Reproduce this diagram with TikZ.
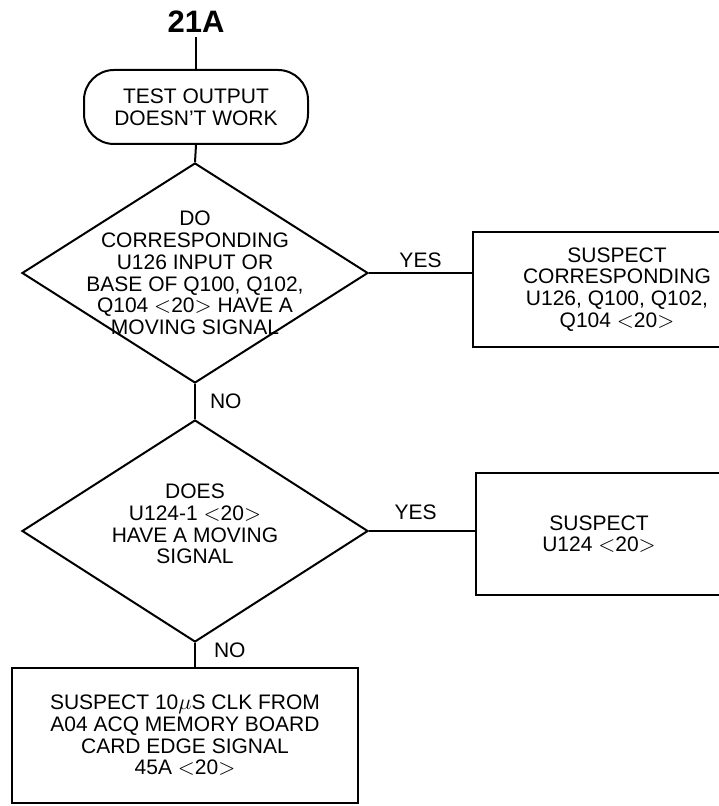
\documentclass[tikz,border=0pt]{standalone}
\usepackage{fontspec}
\setmainfont{Liberation Sans}
\usepackage{tikz}
\usetikzlibrary{
  shapes.geometric,
  positioning
}
\newcommand\flowfont{\fontsize{10.5}{10.85}\selectfont}
\tikzset{
  % Start terminal: fully rounded ends
  term/.style={
    rectangle, rounded corners=15pt,
    draw, line width=1pt,
    minimum width=112pt, minimum height=37pt,
    align=center, font=\flowfont
  },
  % Decision diamond, text set on top of it
  dec/.style={
    diamond, draw, line width=1pt,
    minimum width=173pt, minimum height=#1,
    inner sep=0pt
  },
  % Text inside a diamond
  qtxt/.style={align=center, inner sep=0pt, font=\flowfont},
  % Action box
  proc/.style={
    rectangle, draw, line width=1pt,
    align=center, font=\flowfont
  },
  % Connector
  conn/.style={line width=1pt},
  % YES / NO label
  lbl/.style={font=\flowfont, inner sep=2pt},
  % Sheet tag
  tag/.style={font=\bfseries\fontsize{15.5}{18}\selectfont, inner sep=2pt}
}
\begin{document}
\begin{tikzpicture}[x=0.5pt, y=-0.5pt]
  \useasboundingbox (0,0) rectangle (718,806);

  \node[tag] (sheet) at (196,22) {21A};
  \node[term] (start) at (196,107) {TEST OUTPUT\\DOESN'T WORK};

  \node[dec=110pt] (q1) at (195,273) {};
  \node[qtxt] (q1txt) at (q1) {DO\\CORRESPONDING\\U126 INPUT OR\\BASE OF Q100, Q102,\\Q104 $<$20$>$ HAVE A\\MOVING SIGNAL};
  \node[proc, minimum width=144pt, minimum height=57.5pt] (s1) at (617,289.5) {SUSPECT\\CORRESPONDING\\U126, Q100, Q102,\\Q104 $<$20$>$};

  \node[dec=111pt] (q2) at (195,531) {};
  \node[qtxt] (q2txt) at ([yshift=3.5pt]q2) {DOES\\U124-1 $<$20$>$\\HAVE A MOVING\\SIGNAL};
  \node[proc, minimum width=123pt, minimum height=61pt] (s2) at (599,534) {SUSPECT\\U124 $<$20$>$};

  \node[proc, minimum width=173pt, minimum height=67.5pt] (s3) at (185,735.5) {SUSPECT 10$\mu$S CLK FROM\\A04 ACQ MEMORY BOARD\\CARD EDGE SIGNAL\\45A $<$20$>$};

  % connectors
  \draw[conn] (sheet.south) -- (start.north);
  \draw[conn] (start.south) -- (q1.north);
  \draw[conn] (q1.east) -- node[lbl, above] {YES} (q1.east -| s1.west);
  \draw[conn] (q1.south) -- node[lbl, right=5pt] {NO} (q2.north);
  \draw[conn] (q2.east) -- node[lbl, above=3pt, pos=0.44] {YES} (q2.east -| s2.west);
  \draw[conn] (q2.south) -- node[lbl, right=7pt, pos=0.3] {NO} (q2.south |- s3.north);
\end{tikzpicture}
\end{document}
